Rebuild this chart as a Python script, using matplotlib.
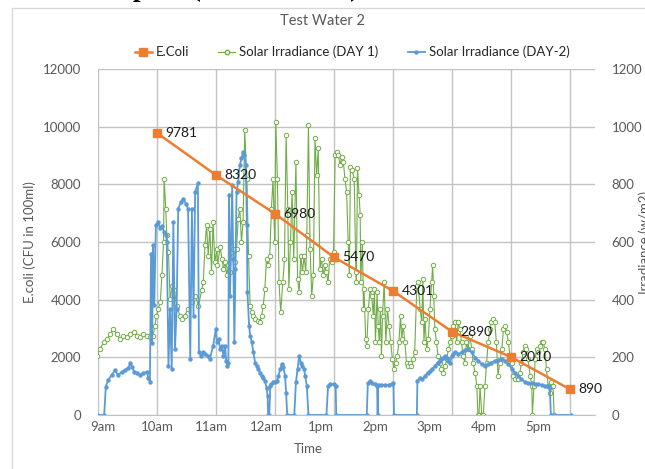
import numpy as np
import matplotlib.pyplot as plt
from matplotlib.lines import Line2D
from matplotlib.patches import Rectangle

plt.rcParams.update({
    "font.family": ["Lato", "DejaVu Sans"],
    "font.size": 9.5,
})

# E.coli counts, sampled every 65 minutes from 10:00
ecoli_times = ["10:00", "11:05", "12:10", "13:15", "14:20", "15:25", "16:30", "17:35"]
ecoli_cfu = [9781, 8320, 6980, 5470, 4301, 2890, 2010, 890]

# solar irradiance, day 1 (decimal hours, W/m2)
day1_t = [8.89, 8.95, 9.02, 9.08, 9.14, 9.20, 9.26, 9.32, 9.38, 9.44, 9.51, 9.57, 9.63, 9.69, 9.75,
          9.81, 9.87, 9.93, 9.96, 9.99, 10.02, 10.06, 10.09, 10.12, 10.13, 10.16, 10.18, 10.21, 10.24,
          10.28, 10.32, 10.36, 10.42, 10.46, 10.51, 10.57, 10.64, 10.70, 10.76, 10.82, 10.85, 10.88,
          10.91, 10.94, 10.97, 11.00, 11.03, 11.06, 11.10, 11.11, 11.16, 11.19, 11.22, 11.25, 11.28,
          11.31, 11.34, 11.37, 11.40, 11.43, 11.46, 11.49, 11.52, 11.55, 11.58, 11.61, 11.65, 11.68,
          11.71, 11.74, 11.77, 11.80, 11.85, 11.89, 11.92, 11.95, 11.98, 12.01, 12.04, 12.07, 12.10,
          12.13, 12.16, 12.18, 12.21, 12.24, 12.27, 12.31, 12.34, 12.37, 12.40, 12.42, 12.45, 12.48,
          12.51, 12.55, 12.58, 12.61, 12.64, 12.67, 12.70, 12.73, 12.75, 12.78, 12.81, 12.84, 12.87,
          12.90, 12.93, 12.96, 12.99, 13.02, 13.05, 13.08, 13.11, 13.14, 13.17, 13.21, 13.24, 13.27,
          13.30, 13.33, 13.36, 13.39, 13.42, 13.45, 13.48, 13.51, 13.53, 13.55, 13.58, 13.62, 13.65,
          13.66, 13.68, 13.71, 13.73, 13.74, 13.77, 13.79, 13.80, 13.83, 13.85, 13.88, 13.91, 13.94,
          13.97, 13.99, 14.01, 14.04, 14.06, 14.08, 14.10, 14.12, 14.14, 14.17, 14.20, 14.23, 14.26,
          14.29, 14.32, 14.35, 14.38, 14.41, 14.44, 14.47, 14.49, 14.52, 14.55, 14.58, 14.61, 14.64,
          14.67, 14.70, 14.73, 14.77, 14.79, 14.83, 14.86, 14.88, 14.90, 14.92, 14.95, 14.98, 15.01,
          15.04, 15.06, 15.08, 15.10, 15.13, 15.16, 15.19, 15.22, 15.25, 15.29, 15.32, 15.35, 15.38,
          15.41, 15.44, 15.47, 15.50, 15.53, 15.56, 15.59, 15.62, 15.65, 15.68, 15.71, 15.74, 15.78,
          15.80, 15.84, 15.87, 15.89, 15.91, 15.93, 15.96, 15.99, 16.02, 16.05, 16.08, 16.11, 16.14,
          16.17, 16.20, 16.23, 16.26, 16.29, 16.33, 16.36, 16.39, 16.42, 16.45, 16.48, 16.51, 16.54,
          16.57, 16.60, 16.63, 16.66, 16.69, 16.72, 16.75, 16.78, 16.81, 16.85, 16.88, 16.89, 16.92,
          16.94, 16.97, 17.00, 17.03, 17.06, 17.09, 17.12, 17.15, 17.18, 17.21, 17.24, 17.27, 17.29]
day1_w = [205, 228, 252, 263, 281, 298, 281, 263, 275, 269, 281, 289, 275, 269, 281,
          275, 269, 275, 310, 345, 368, 391, 484, 600, 820, 716, 623, 565, 403,
          449, 432, 379, 345, 333, 345, 368, 391, 414, 379, 432, 461, 588,
          658, 553, 646, 495, 669, 530, 577, 519, 584, 542, 507, 530, 484,
          519, 495, 565, 577, 530, 577, 681, 716, 600, 669, 988, 818, 553,
          379, 356, 345, 333, 327, 321, 345, 379, 437, 542, 519, 553, 716,
          818, 600, 1017, 818, 461, 356, 461, 542, 971, 716, 437, 600, 774,
          542, 878, 472, 426, 553, 495, 553, 495, 623, 1006, 577, 414, 484,
          959, 832, 925, 507, 542, 484, 519, 495, 461, 542, 530, 565, 901,
          913, 901, 866, 896, 878, 820, 774, 600, 484, 861, 850, 820, 495,
          461, 855, 762, 693, 461, 600, 368, 437, 263, 240, 368, 437, 414,
          345, 437, 252, 426, 310, 252, 368, 205, 345, 461, 252, 368, 310,
          252, 194, 159, 182, 205, 252, 345, 263, 310, 252, 182, 170, 182,
          170, 194, 217, 449, 461, 368, 321, 472, 252, 333, 228, 263, 368,
          461, 519, 414, 298, 252, 205, 182, 159, 147, 170, 194, 228, 252,
          275, 310, 321, 252, 321, 298, 252, 205, 182, 252, 228, 275, 228,
          182, 147, 101, 0, 0, 101, 0, 0, 101, 182, 252, 298, 321,
          333, 321, 252, 136, 182, 228, 298, 310, 287, 252, 205, 182, 136,
          124, 136, 124, 147, 182, 217, 240, 228, 194, 136, 101, 0, 101,
          194, 228, 217, 240, 252, 252, 228, 159, 101, 78, 113, 101, 0]

# solar irradiance, day 2 (decimal hours, W/m2)
day2_t = [8.90, 9.03, 9.06, 9.10, 9.17, 9.23, 9.28, 9.36, 9.41, 9.47, 9.51, 9.54, 9.58, 9.63,
          9.69, 9.74, 9.82, 9.84, 9.87, 9.89, 9.91, 9.93, 9.95, 9.98, 10.02, 10.06, 10.09, 10.13,
          10.17, 10.18, 10.21, 10.24, 10.27, 10.30, 10.33, 10.36, 10.39, 10.44, 10.48, 10.53,
          10.57, 10.61, 10.64, 10.67, 10.70, 10.75, 10.77, 10.81, 10.85, 10.88, 10.94, 10.97,
          11.03, 11.08, 11.10, 11.13, 11.16, 11.19, 11.22, 11.25, 11.27, 11.29, 11.31, 11.32,
          11.34, 11.36, 11.38, 11.40, 11.42, 11.44, 11.46, 11.49, 11.52, 11.55, 11.58, 11.60,
          11.63, 11.65, 11.66, 11.69, 11.71, 11.74, 11.77, 11.80, 11.83, 11.86, 11.89, 11.92,
          11.95, 11.98, 12.01, 12.03, 12.04, 12.06, 12.08, 12.10, 12.13, 12.17, 12.20, 12.23,
          12.26, 12.29, 12.32, 12.35, 12.37, 12.39, 12.52, 12.55, 12.58, 12.61, 12.64, 12.67,
          12.70, 12.72, 12.75, 12.78, 13.11, 13.14, 13.18, 13.24, 13.28, 13.29, 13.85, 13.87,
          13.91, 13.95, 14.00, 14.04, 14.05, 14.06, 14.12, 14.18, 14.25, 14.31, 14.34, 14.35,
          14.77, 14.78, 14.83, 14.87, 14.92, 14.97, 15.01, 15.05, 15.10, 15.15, 15.19, 15.22,
          15.25, 15.29, 15.32, 15.35, 15.38, 15.41, 15.44, 15.47, 15.53, 15.59, 15.65, 15.71,
          15.78, 15.84, 15.90, 15.96, 16.02, 16.08, 16.14, 16.20, 16.26, 16.33, 16.39, 16.45,
          16.51, 16.57, 16.63, 16.69, 16.75, 16.81, 16.88, 16.94, 17.00, 17.06, 17.12, 17.18,
          17.21, 17.23, 17.60]
day2_w = [0, 0, 98, 121, 139, 156, 139, 150, 156, 162, 179, 168, 150, 145,
          139, 145, 150, 127, 116, 560, 250, 590, 380, 660, 670, 650, 655, 635,
          625, 600, 170, 368, 159, 669, 228, 368, 716, 739, 750, 733,
          716, 194, 716, 344, 774, 803, 217, 205, 217, 211, 205, 194,
          240, 298, 252, 263, 228, 240, 205, 240, 188, 170, 182, 762,
          414, 600, 797, 542, 252, 507, 774, 808, 866, 890, 913, 901,
          866, 658, 426, 310, 275, 252, 217, 182, 170, 159, 147, 136,
          130, 118, 95, 66, 0, 0, 99, 107, 113, 113, 118, 136,
          159, 176, 165, 136, 78, 0, 0, 113, 159, 205, 182, 170,
          159, 136, 101, 0, 0, 99, 107, 107, 99, 0, 0, 110,
          118, 110, 107, 101, 0, 105, 105, 104, 105, 107, 110, 0,
          0, 118, 130, 124, 136, 147, 153, 159, 170, 182, 188, 194,
          199, 205, 199, 188, 182, 205, 211, 219, 211, 217, 226, 228,
          217, 199, 188, 176, 170, 176, 182, 188, 191, 194, 188, 176,
          161, 147, 136, 124, 115, 110, 110, 107, 106, 103, 101, 99,
          95, 0, 0]

hour_labels = ["9am", "10am", "11am", "12am", "1pm", "2pm", "3pm", "4pm", "5pm"]
hour_ticks = [9, 10, 11, 12, 13, 14, 15, 16, 17]


def to_hours(hhmm):
    h, m = hhmm.split(":")
    return int(h) + int(m) / 60


ecoli_t = [to_hours(s) for s in ecoli_times]

ORANGE = "#ED7D31"
GREEN = "#70AD47"
BLUE = "#5B9BD5"
GRID = "#c2c2c2"
TXT = "#595959"

fig = plt.figure(figsize=(6.45, 4.69), dpi=100)
fig.patches.append(Rectangle((12 / 645, -0.1), 1.2, 1 - 8 / 469 + 0.1, transform=fig.transFigure,
                             fill=False, edgecolor="#d9d9d9", lw=1))

# caption line of the page above, mostly cut off by the top edge
fig.text(85 / 645, 1 + 4 / 469, "Graph 2 (Test Water 2)", ha="left", va="baseline",
         fontsize=20, fontweight="bold", family="Liberation Serif", color="black")

ax = fig.add_axes([98 / 645, 54 / 469, 497 / 645, 346 / 469])
ax2 = ax.twinx()
ax.set_zorder(ax2.get_zorder() + 1)
ax.patch.set_visible(False)

# irradiance on the secondary axis (drawn underneath)
ax2.plot(day1_t, day1_w, "-o", color=GREEN, lw=0.8, ms=3.2, mfc="white", mec=GREEN, mew=0.7,
         label="Solar Irradiance (DAY 1)")
ax2.plot(day2_t, day2_w, "-o", color=BLUE, lw=1.3, ms=2.2, mfc=BLUE, mec=BLUE,
         label="Solar Irradiance (DAY-2)")
ax2.set_ylim(0, 1200)
ax2.set_yticks(np.arange(0, 1201, 200))

# E.coli on the primary axis
ax.plot(ecoli_t, ecoli_cfu, "-s", color=ORANGE, lw=1.8, ms=6, label="E.Coli")
for t, v in zip(ecoli_t, ecoli_cfu):
    ax.annotate(str(v), (t, v), xytext=(6, 0), textcoords="offset points",
                ha="left", va="center", fontsize=10, color="#1a1a1a")
ax.set_ylim(0, 12000)
ax.set_yticks(np.arange(0, 12001, 2000))
ax.set_xlim(to_hours("8:55"), 18.04)
ax.set_xticks(hour_ticks)
ax.set_xticklabels(hour_labels)

# gridlines follow the sampling times
for t in [to_hours("8:55")] + ecoli_t:
    ax2.axvline(t, color=GRID, lw=1, zorder=0)
ax2.grid(axis="y", color=GRID, lw=1, zorder=0)
ax2.set_axisbelow(True)

for a in (ax, ax2):
    for side in ("top", "left", "right", "bottom"):
        a.spines[side].set_visible(False)
    a.tick_params(length=0, colors=TXT, labelsize=9.5)
ax2.spines["bottom"].set_visible(True)
ax2.spines["bottom"].set_color(GRID)
ax.tick_params(axis="y", pad=12)
ax2.tick_params(axis="y", pad=12)
ax.tick_params(axis="x", pad=4)

fig.text(322 / 645, 1 - 21 / 469, "Test Water 2", ha="center", va="center", fontsize=10.5, color=TXT)
fig.text(30 / 645, 1 - 242 / 469, "E.coli (CFU in 100ml)", rotation=90, ha="center", va="center",
         fontsize=9.5, color=TXT)
fig.text(638 / 645, 1 - 242 / 469, "Irradiance (w/m2)", rotation=90, ha="left", va="center",
         fontsize=9.5, color=TXT)
fig.text(308 / 645, 1 - 449 / 469, "Time", ha="center", va="center", fontsize=9.5, color=TXT)

handles = [
    Line2D([], [], color=ORANGE, lw=1.8, marker="s", ms=6),
    Line2D([], [], color=GREEN, lw=0.8, marker="o", ms=3.2, mfc="white", mec=GREEN),
    Line2D([], [], color=BLUE, lw=1.3, marker="o", ms=2.2),
]
fig.legend(handles, ["E.Coli", "Solar Irradiance (DAY 1)", "Solar Irradiance (DAY-2)"],
           loc="center", bbox_to_anchor=(352 / 645, 1 - 52 / 469), ncol=3, frameon=False,
           handlelength=1.3, handletextpad=0.3, columnspacing=2.2, fontsize=9.5,
           labelcolor="#262626")

fig.savefig("out.png", dpi=100)
